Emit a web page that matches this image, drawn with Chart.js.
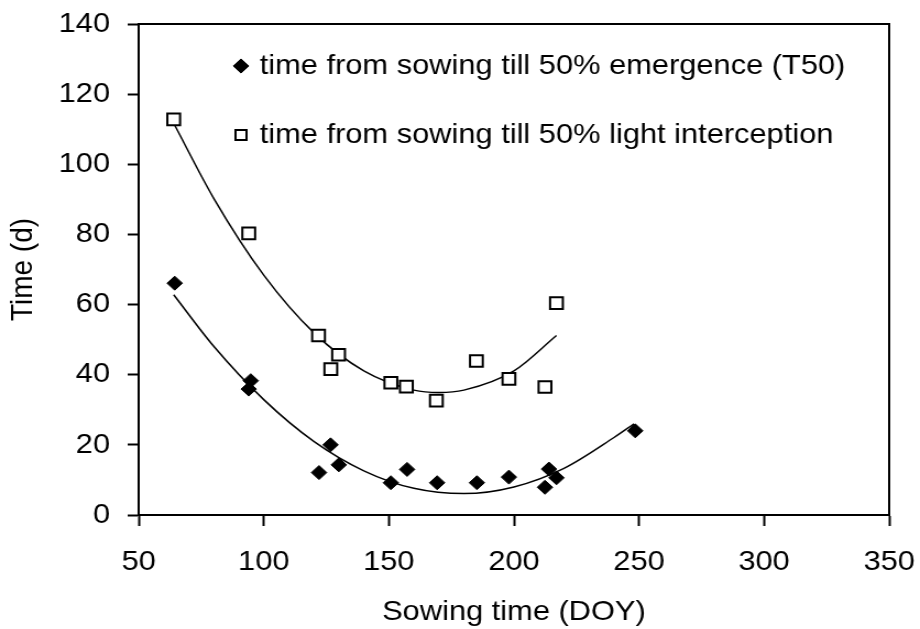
<!DOCTYPE html>
<html>
<head>
<meta charset="utf-8">
<title>Sowing time vs time to emergence</title>
<script src="https://cdn.jsdelivr.net/npm/chart.js@4.4.1/dist/chart.umd.min.js"></script>
<style>
  html, body { margin: 0; padding: 0; background: #fff; }
</style>
</head>
<body>
<!-- the original picture is a little stretched sideways, so the canvas is too -->
<canvas id="chart" width="836" height="629" style="display:block;width:920px;height:629px"></canvas>
<script>
// T50: time from sowing till 50% emergence
const emergDoy  = [64.4, 94.8, 94.0, 122.1, 126.7, 130.0, 150.8, 157.3, 169.3, 185.2, 198.0, 212.4, 214.0, 217.0, 248.5];
const emergDays = [66.1, 38.3, 35.9, 12.1, 20.0, 14.3, 9.2, 13.0, 9.2, 9.2, 10.8, 7.9, 13.1, 10.6, 24.0];

// time from sowing till 50% light interception
const lightDoy  = [64.0, 94.0, 121.9, 126.8, 129.9, 150.8, 157.0, 169.0, 185.0, 198.0, 212.4, 217.0];
const lightDays = [112.8, 80.3, 51.2, 41.6, 45.7, 37.7, 36.6, 32.6, 43.9, 38.8, 36.5, 60.4];

// trend lines
const emergFitDoy  = [64, 80, 100, 120, 140, 160, 180, 200, 220, 240, 248];
const emergFitDays = [62.8, 48.1, 32.9, 21.0, 12.6, 7.6, 6.1, 8.0, 13.3, 22.1, 26.0];
const lightFitDoy  = [64, 80, 100, 120, 140, 160, 170, 180, 200, 217];
const lightFitDays = [111.7, 90.3, 68.4, 52.0, 41.1, 35.6, 34.9, 35.6, 41.1, 51.2];

const seriesLabels = [
  'time from sowing till 50% emergence (T50)',
  'time from sowing till 50% light interception'
];

const xTicks = [50, 100, 150, 200, 250, 300, 350];
const yTicks = [0, 20, 40, 60, 80, 100, 120, 140];

function toPoints(xs, ys) {
  return xs.map((x, i) => ({x: x, y: ys[i]}));
}

Chart.defaults.font.family = "'Liberation Sans', Arial, sans-serif";
Chart.defaults.font.size = 28;
Chart.defaults.color = '#000';

// box round the plot (top and right edges)
const frame = {
  id: 'frame',
  afterDatasetsDraw(chart) {
    const {ctx, chartArea: a} = chart;
    ctx.save();
    ctx.strokeStyle = '#000';
    ctx.lineWidth = 2;
    ctx.beginPath();
    ctx.moveTo(a.left, a.top);
    ctx.lineTo(a.right, a.top);
    ctx.lineTo(a.right, a.bottom);
    ctx.stroke();
    ctx.restore();
  }
};

// legend sits inside the plot, up at the top
const legendSpot = {
  id: 'legendSpot',
  afterLayout(chart) {
    chart.legend.left = 175;
    chart.legend.top = 11;
  }
};

const ctx = document.getElementById('chart').getContext('2d');
new Chart(ctx, {
  type: 'scatter',
  data: {
    datasets: [
      {
        label: seriesLabels[0],
        data: toPoints(emergDoy, emergDays),
        pointStyle: 'rectRot',
        pointRadius: 7,
        backgroundColor: '#000',
        borderColor: '#000',
        borderWidth: 1
      },
      {
        label: seriesLabels[1],
        data: toPoints(lightDoy, lightDays),
        pointStyle: 'rect',
        pointRadius: 8.2,
        backgroundColor: '#fff',
        borderColor: '#000',
        borderWidth: 2
      },
      {
        label: 'fit T50',
        data: toPoints(emergFitDoy, emergFitDays),
        showLine: true,
        pointRadius: 0,
        borderColor: '#000',
        borderWidth: 1.5,
        cubicInterpolationMode: 'monotone'
      },
      {
        label: 'fit light',
        data: toPoints(lightFitDoy, lightFitDays),
        showLine: true,
        pointRadius: 0,
        borderColor: '#000',
        borderWidth: 1.5,
        cubicInterpolationMode: 'monotone'
      }
    ]
  },
  options: {
    responsive: false,
    animation: false,
    layout: {
      padding: {top: 24, right: 28, left: 0, bottom: 0}
    },
    plugins: {
      tooltip: {enabled: false},
      legend: {
        position: 'chartArea',
        align: 'start',
        labels: {
          usePointStyle: true,
          boxHeight: 10,
          boxWidth: 6,
          padding: 41,
          color: '#000',
          filter: (item) => item.datasetIndex < 2
        }
      }
    },
    scales: {
      x: {
        type: 'linear',
        min: xTicks[0],
        max: xTicks[xTicks.length - 1],
        afterBuildTicks: (scale) => { scale.ticks = xTicks.map(v => ({value: v})); },
        afterFit: (scale) => {
          scale.height = 114;
          scale.paddingLeft = 0;
          scale.paddingRight = 0;
        },
        grid: {drawOnChartArea: false, tickLength: 11, tickColor: '#000', tickWidth: 2},
        border: {color: '#000', width: 2},
        ticks: {padding: 19, color: '#000'},
        title: {
          display: true,
          text: 'Sowing time (DOY)',
          color: '#000',
          padding: {top: 0, bottom: 0}
        }
      },
      y: {
        type: 'linear',
        min: yTicks[0],
        max: yTicks[yTicks.length - 1],
        afterBuildTicks: (scale) => { scale.ticks = yTicks.map(v => ({value: v})); },
        afterFit: (scale) => {
          scale.width = 126;
          scale.paddingTop = 0;
          scale.paddingBottom = 0;
        },
        grid: {drawOnChartArea: false, tickLength: 10, tickColor: '#000', tickWidth: 2},
        border: {color: '#000', width: 2},
        ticks: {padding: 16, color: '#000'},
        title: {
          display: true,
          text: 'Time (d)',
          color: '#000',
          padding: {top: 4, bottom: 0}
        }
      }
    }
  },
  plugins: [frame, legendSpot]
});
</script>
</body>
</html>
